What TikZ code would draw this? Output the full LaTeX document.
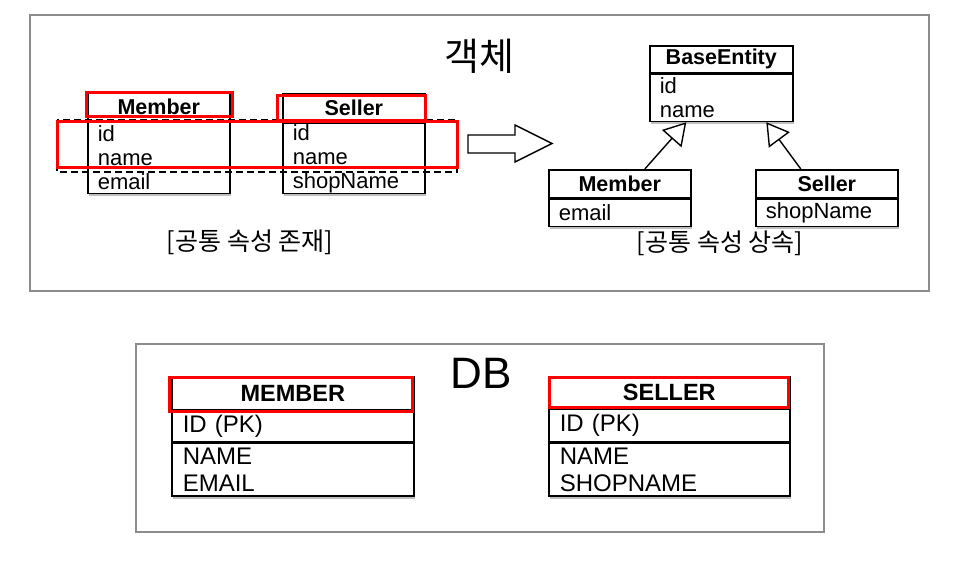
\documentclass[tikz,border=0pt]{standalone}
\usepackage{fontspec}
\setmainfont{Liberation Sans}
\newfontfamily\kr{Noto Sans CJK KR}
\usetikzlibrary{positioning,calc,arrows.meta,shadows}
\tikzset{>=latex}

\begin{document}
\begin{tikzpicture}[x=1pt, y=-1pt,
  box/.style={draw, line width=1.6pt, fill=white, inner sep=0pt,
    drop shadow={shadow xshift=1pt, shadow yshift=-2.5pt, fill=black, opacity=0.25}},
  head/.style={box, minimum height=28pt, font=\fontsize{21.5}{24}\selectfont\bfseries},
  attr/.style={box, text width=#1, inner xsep=10pt, align=left, font=\fontsize{22}{24}\selectfont},
  dbhead/.style={box, minimum height=32pt, font=\fontsize{23.5}{27}\selectfont\bfseries},
  dbattr/.style={box, text width=#1, inner xsep=11pt, align=left, font=\fontsize{24}{27}\selectfont},
  redmark/.style={draw=red, line width=3pt},
  frame/.style={draw=black!45, line width=1.5pt},
  kor/.style={font=\kr\fontsize{25}{28}\selectfont}]
  \useasboundingbox (0,0) rectangle (977,564);
  \draw[frame] (30,15) rectangle (929,291);
  \draw[frame] (136,344) rectangle (824,532);

  \node[font=\kr\fontsize{38}{40}\selectfont] (objTitle) at (479,56) {객체};
  \node[font=\fontsize{44}{46}\selectfont] (dbTitle) at (481,373) {DB};

  \node[head, minimum width=142pt, anchor=north west] (memHead) at (87,92) {Member};
  \node[attr=122pt, minimum height=71pt, below=0pt of memHead] (memBody) {id\\name\\email};
  \node[head, minimum width=142pt, anchor=north west] (selHead) at (282,93) {Seller};
  \node[attr=122pt, minimum height=70pt, below=0pt of selHead] (selBody) {id\\name\\shopName};
  \draw[line width=1.2pt, dash pattern=on 7pt off 4pt] (57,120) rectangle (457,172);
  \draw[redmark] (86,93) rectangle (232,117);
  \draw[redmark] (277,96) rectangle (425,121);
  \draw[redmark] (57,122) rectangle (457,168);
  \node[kor] (leftCap) at (250,242) {[공통 속성 존재]};

  \draw[line width=1.4pt, line join=miter] (468,135) -- (515,135) -- (515,125) -- (552,143.5)
    -- (515,162) -- (515,153) -- (468,153) -- cycle;

  \node[head, minimum width=143pt, minimum height=27pt, anchor=north west] (baseHead) at (649,45) {BaseEntity};
  \node[attr=123pt, minimum height=47pt, below=0pt of baseHead] (baseBody) {id\\name};
  \node[head, minimum width=142pt, anchor=north west] (mem2Head) at (548,169) {Member};
  \node[attr=122pt, minimum height=27pt, below=0pt of mem2Head] (mem2Body) {email};
  \node[head, minimum width=142pt, anchor=north west] (sel2Head) at (755,169) {Seller};
  \node[attr=122pt, minimum height=27pt, below=0pt of sel2Head] (sel2Body) {shopName};
  \draw[line width=1.4pt, -{Triangle[open, length=22pt, width=26pt]}]
    ($(mem2Head.north)+(25,0)$) -- ($(baseBody.south)+(-35,0)$);
  \draw[line width=1.4pt, -{Triangle[open, length=22pt, width=26pt]}]
    ($(sel2Head.north)+(-26,0)$) -- ($(baseBody.south)+(45,0)$);
  \node[kor] (rightCap) at (720,243) {[공통 속성 상속]};

  \node[dbhead, minimum width=242pt, minimum height=33pt, anchor=north west] (dbMemHead) at (171,376) {MEMBER};
  \node[dbattr=220pt, minimum height=30pt, below=0pt of dbMemHead] (dbMemPk) {ID (PK)};
  \node[dbattr=220pt, minimum height=53pt, below=0pt of dbMemPk] (dbMemCols) {NAME\\EMAIL};
  \node[dbhead, minimum width=241pt, minimum height=31pt, anchor=north west] (dbSelHead) at (548,376) {SELLER};
  \node[dbattr=219pt, minimum height=32pt, below=0pt of dbSelHead] (dbSelPk) {ID (PK)};
  \node[dbattr=219pt, minimum height=53pt, below=0pt of dbSelPk] (dbSelCols) {NAME\\SHOPNAME};
  \draw[redmark] (169,377) rectangle (412,411);
  \draw[redmark] (549,377) rectangle (788,407);
\end{tikzpicture}
\end{document}
